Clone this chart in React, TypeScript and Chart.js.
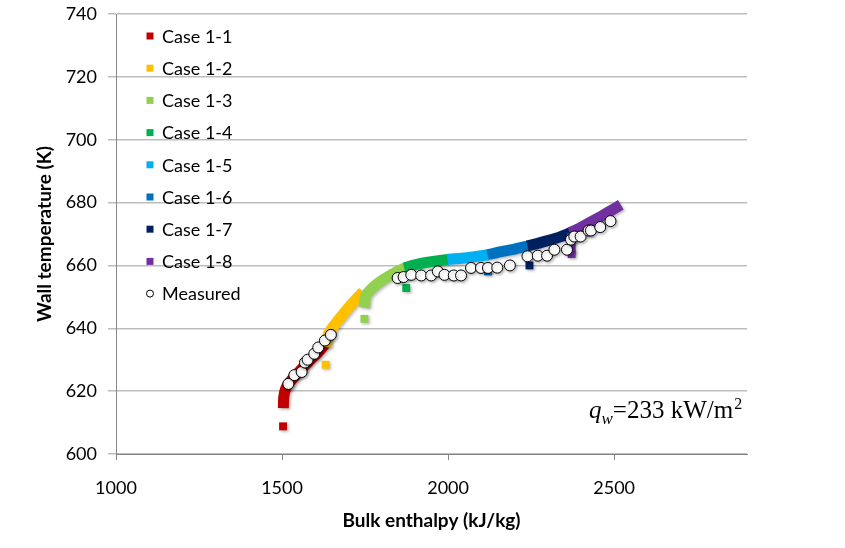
import React, { useEffect, useRef } from "react";
import { Chart, registerables } from "chart.js";

Chart.register(...registerables);

const FONT = "Lato, 'Open Sans', sans-serif";

// Axis ranges / ticks
const xRange = [1000, 2900];
const xTicks = [1000, 1500, 2000, 2500];
const yRange = [600, 740];
const yTicks = [600, 620, 640, 660, 680, 700, 720, 740];

// Legend / series
const caseLabels = ["Case 1-1", "Case 1-2", "Case 1-3", "Case 1-4", "Case 1-5", "Case 1-6", "Case 1-7", "Case 1-8"];
const caseColors = ["#C00000", "#FFC000", "#92D050", "#00B050", "#00B0F0", "#0070C0", "#002060", "#7030A0"];
const measuredLabel = "Measured";

// Isolated first point of each case [enthalpy, temperature]
const caseOutliers: [number, number][] = [
  [1503, 608.8],
  [1631, 628.4],
  [1748, 643.0],
  [1874, 652.8],
  [2005, 657.0],
  [2120, 658.1],
  [2245, 660.0],
  [2372, 663.6],
];

// Simulated bands [enthalpy, temperature]
const case1Band: [number, number][] = [[1504, 614.6], [1505, 618], [1511, 620.8], [1524, 623.0], [1549, 625.9], [1579, 629.3], [1609, 632.4], [1632, 635.3]];
const case2Band: [number, number][] = [[1633, 634.0], [1640, 638.2], [1662, 641.6], [1688, 645.0], [1715, 648.4], [1744, 651.6]];
const case3Band: [number, number][] = [[1748, 646.5], [1753, 650.4], [1772, 652.8], [1800, 655.2], [1838, 657.6], [1870, 659.2]];
const case4Band: [number, number][] = [[1868, 659.2], [1900, 660.2], [1930, 660.9], [1965, 661.4], [2000, 661.9]];
const case5Band: [number, number][] = [[1998, 661.9], [2040, 662.3], [2080, 662.8], [2121, 663.4]];
const case6Band: [number, number][] = [[2119, 663.4], [2160, 664.4], [2200, 665.2], [2241, 666.2]];
const case7Band: [number, number][] = [[2239, 666.2], [2270, 667.0], [2300, 667.9], [2335, 669.0], [2369, 670.4]];
const case8Band: [number, number][] = [[2367, 670.4], [2400, 672.1], [2440, 674.4], [2480, 676.8], [2520, 679.3]];
const case8Tail: [number, number][] = [[2372, 663.6], [2372, 667.5], [2370, 670.4]];
const caseBands = [case1Band, case2Band, case3Band, case4Band, case5Band, case6Band, case7Band, case8Band];

// Measured data [enthalpy, temperature]
const measured: [number, number][] = [
  [1519, 622.3], [1537, 625.1], [1559, 626.1], [1569, 629.1], [1577, 630.0], [1597, 631.9], [1609, 633.9], [1629, 636.1], [1647, 637.9],
  [1848, 656.0], [1866, 656.3], [1889, 657.0], [1919, 656.8], [1949, 656.8], [1969, 658.1], [1989, 657.0], [2017, 656.8], [2039, 656.8],
  [2069, 659.2], [2099, 659.2], [2120, 659.2], [2148, 659.3], [2186, 660.0], [2239, 662.9], [2270, 663.1], [2298, 663.1], [2320, 665.0],
  [2358, 665.0], [2370, 668.2], [2380, 669.2], [2399, 669.2], [2423, 671.1], [2430, 671.1], [2458, 672.2], [2489, 674.1],
];

const xTitle = "Bulk enthalpy (kJ/kg)";
const yTitle = "Wall temperature (K)";
const noteValue = "=233 kW/m";

const toXY = (arr: [number, number][]) => arr.map(([x, y]) => ({ x, y }));

const shadowPlugin = {
  id: "shadowPlugin",
  beforeDatasetDraw(chart: any) {
    const ctx = chart.ctx;
    ctx.save();
    ctx.shadowColor = "rgba(0,0,0,0.28)";
    ctx.shadowBlur = 3;
    ctx.shadowOffsetX = 1.5;
    ctx.shadowOffsetY = 1.5;
  },
  afterDatasetDraw(chart: any) {
    chart.ctx.restore();
  },
};

const legendPlugin = {
  id: "legendPlugin",
  afterDraw(chart: any) {
    const { ctx, chartArea } = chart;
    const mx = chartArea.left + 34;
    const tx = chartArea.left + 46;
    ctx.save();
    ctx.font = `18px ${FONT}`;
    ctx.textBaseline = "middle";
    ctx.textAlign = "left";
    const items = [...caseLabels, measuredLabel];
    items.forEach((label, i) => {
      const cy = chartArea.top + 22 + i * 32.2;
      if (i < caseLabels.length) {
        ctx.fillStyle = caseColors[i];
        ctx.fillRect(mx - 3.5, cy - 3.5, 7, 7);
      } else {
        ctx.beginPath();
        ctx.arc(mx, cy, 3.5, 0, Math.PI * 2);
        ctx.fillStyle = "#fff";
        ctx.fill();
        ctx.lineWidth = 1;
        ctx.strokeStyle = "#000";
        ctx.stroke();
      }
      ctx.fillStyle = "#000";
      ctx.fillText(label, tx, cy + 1);
    });
    ctx.restore();
  },
};

const notePlugin = {
  id: "notePlugin",
  afterDraw(chart: any) {
    const { ctx, chartArea } = chart;
    const baseY = chartArea.bottom - 36;
    let x = chartArea.right - 158;
    ctx.save();
    ctx.fillStyle = "#000";
    ctx.textBaseline = "alphabetic";
    ctx.textAlign = "left";
    ctx.font = `italic 25px 'Liberation Serif', 'DejaVu Serif', serif`;
    ctx.fillText("q", x, baseY);
    x += ctx.measureText("q").width;
    ctx.font = `italic 17px 'Liberation Serif', 'DejaVu Serif', serif`;
    ctx.fillText("w", x, baseY + 6);
    x += ctx.measureText("w").width;
    ctx.font = `25px 'Liberation Serif', 'DejaVu Serif', serif`;
    ctx.fillText(noteValue, x, baseY);
    x += ctx.measureText(noteValue).width;
    ctx.font = `16px 'Liberation Serif', 'DejaVu Serif', serif`;
    ctx.fillText("2", x + 1, baseY - 9);
    ctx.restore();
  },
};

export default function App() {
  const canvasRef = useRef<HTMLCanvasElement | null>(null);

  useEffect(() => {
    if (!canvasRef.current) return;
    const datasets: any[] = [];
    datasets.push({
      label: measuredLabel,
      data: toXY(measured),
      pointStyle: "circle",
      pointRadius: 5.5,
      pointBackgroundColor: "#ffffff",
      pointBorderColor: "#000000",
      pointBorderWidth: 1,
      showLine: false,
      order: 0,
    });
    caseLabels.forEach((label, i) => {
      datasets.push({
        label: label + " band",
        data: toXY(caseBands[i]),
        showLine: true,
        borderColor: caseColors[i],
        borderWidth: 11,
        borderCapStyle: "butt",
        borderJoinStyle: "round",
        tension: 0.3,
        pointRadius: 0,
        fill: false,
        order: 20 - i,
      });
      datasets.push({
        label: label,
        data: toXY([caseOutliers[i]]),
        pointStyle: "rect",
        pointRadius: 5.6,
        pointBackgroundColor: caseColors[i],
        pointBorderColor: caseColors[i],
        pointBorderWidth: 0,
        showLine: false,
        order: 20 - i,
      });
    });
    datasets.push({
      label: "Case 1-8 tail",
      data: toXY(case8Tail),
      showLine: true,
      borderColor: caseColors[7],
      borderWidth: 8,
      borderCapStyle: "butt",
      tension: 0,
      pointRadius: 0,
      order: 13,
    });

    const fixTicks = (values: number[]) => (s: any) => {
      s.ticks = values.map((v) => ({ value: v }));
    };

    const chart = new Chart(canvasRef.current, {
      type: "scatter",
      data: { datasets },
      plugins: [shadowPlugin, legendPlugin, notePlugin],
      options: {
        responsive: false,
        animation: false,
        events: [],
        layout: { padding: { left: 0, right: 98, top: 14, bottom: 0 } },
        plugins: { legend: { display: false }, tooltip: { enabled: false } },
        scales: {
          x: {
            type: "linear",
            min: xRange[0],
            max: xRange[1],
            afterBuildTicks: fixTicks(xTicks),
            afterFit: (s: any) => { s.height = 94; s.paddingLeft = 0; s.paddingRight = 0; },
            ticks: { padding: 17, color: "#000", font: { family: FONT, size: 18 }, callback: (v: any) => String(v) },
            grid: { drawOnChartArea: false, drawTicks: true, tickLength: 6, tickColor: "#868686", tickWidth: 1 },
            border: { color: "#868686", width: 1 },
            title: { display: true, text: xTitle, color: "#000", font: { family: FONT, size: 19, weight: "bold" }, padding: { top: 0, bottom: 16 } },
          },
          y: {
            type: "linear",
            min: yRange[0],
            max: yRange[1],
            afterBuildTicks: fixTicks(yTicks),
            afterFit: (s: any) => { s.width = 116; s.paddingTop = 0; s.paddingBottom = 0; },
            ticks: { padding: 11, color: "#000", font: { family: FONT, size: 18 }, callback: (v: any) => String(v) },
            grid: { color: "#BDBDBD", lineWidth: 1.5, tickLength: 8, tickColor: "#BDBDBD" },
            border: { color: "#868686", width: 1 },
            title: { display: true, text: yTitle, color: "#000", font: { family: FONT, size: 19, weight: "bold" }, padding: { top: 33, bottom: 4 } },
          },
        },
      },
    } as any);
    return () => chart.destroy();
  }, []);

  return (
    <div style={{ position: "fixed", left: 0, top: 0, width: 845, height: 548, background: "#fff" }}>
      <canvas ref={canvasRef} width={845} height={548} style={{ display: "block" }} />
    </div>
  );
}
